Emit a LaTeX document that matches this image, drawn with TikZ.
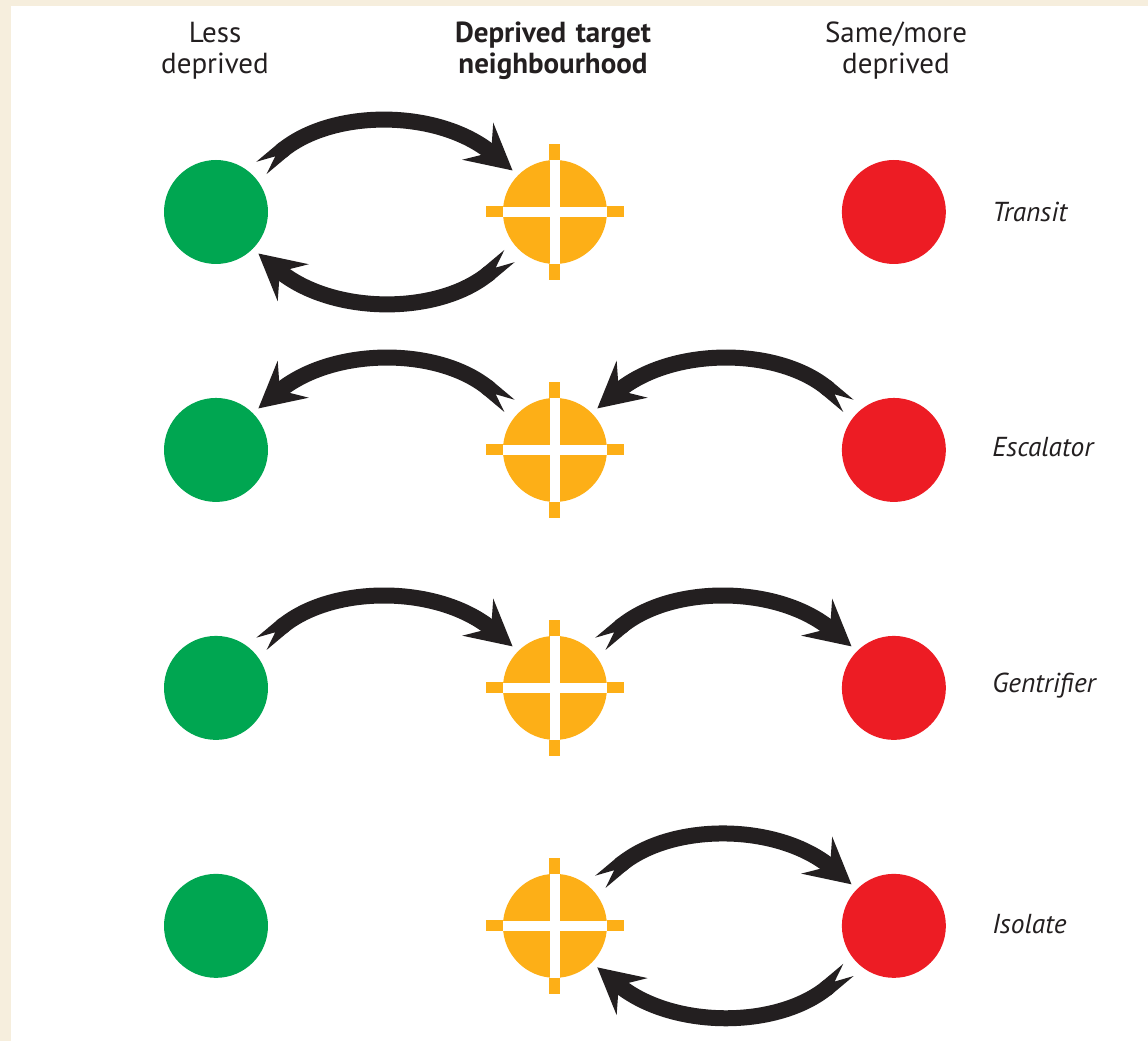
\documentclass[tikz,border=0pt]{standalone}
\usepackage{fontspec}
\setmainfont{PT Sans}
\usetikzlibrary{arrows.meta}
\definecolor{cream}{HTML}{F6EEDD}
\definecolor{lessgreen}{HTML}{00A651}
\definecolor{targorange}{HTML}{FDAF17}
\definecolor{morered}{HTML}{ED1C24}
\definecolor{ink}{HTML}{231F20}
\tikzstyle{less} = [circle, fill=lessgreen, minimum size=2.08cm, inner sep=0pt]
\tikzstyle{targ} = [circle, fill=targorange, minimum size=2.08cm, inner sep=0pt]
\tikzstyle{more} = [circle, fill=morered, minimum size=2.08cm, inner sep=0pt]
\tikzstyle{head} = [text width=5cm, align=center, text=ink,
    font=\fontsize{16.5}{17.6}\selectfont]
\tikzstyle{kind} = [anchor=west, inner sep=0pt, text=ink,
    font=\fontsize{15.6}{17.6}\selectfont\itshape]
\tikzstyle{gap} = [draw=white, line width=0.2cm]
\tikzstyle{stub} = [draw=targorange, line width=0.22cm]
\tikzstyle{line} = [draw=ink, line width=0.32cm,
    arrows={Triangle Cap[reversed, length=0.36cm]-Stealth[length=0.9cm, width=0.95cm, inset=0.34cm]},
    shorten <=0.22cm, shorten >=0.14cm]

\begin{document}
\begin{tikzpicture}[x=0.02cm, y=0.02cm, node distance=6.78cm]
    % Frame
    \fill[cream] (0,0) rectangle (1148,1041);
    \fill[white] (11,0) rectangle (1148,1035);
    \useasboundingbox (0,0) rectangle (1148,1041);
    % Column heads
    \node [head] (hless) at (215,990) {Less\\deprived};
    \node [head, font=\fontsize{16.5}{17.6}\selectfont\bfseries] (htarg) at (553,990) {Deprived target\\neighbourhood};
    \node [head] (hmore) at (896,990) {Same/more\\deprived};
    % Place nodes
    \node [less] (less1) at (216,829) {};
    \node [targ, right of=less1] (targ1) {};
    \node [more, right of=targ1] (more1) {};
    \node [less, below of=less1, node distance=4.76cm] (less2) {};
    \node [targ, right of=less2] (targ2) {};
    \node [more, right of=targ2] (more2) {};
    \node [less, below of=less2, node distance=4.76cm] (less3) {};
    \node [targ, right of=less3] (targ3) {};
    \node [more, right of=targ3] (more3) {};
    \node [less, below of=less3, node distance=4.76cm] (less4) {};
    \node [targ, right of=less4] (targ4) {};
    \node [more, right of=targ4] (more4) {};
    % Cross hairs
    \foreach \t in {targ1,targ2,targ3,targ4} {
        \path [gap] (\t.west) -- (\t.east) (\t.north) -- (\t.south);
        \path [stub] (\t.west) -- ++(-17,0) (\t.east) -- ++(17,0)
            (\t.north) -- ++(0,16) (\t.south) -- ++(0,-16);
    }
    % Row labels
    \node [kind] (kind1) at (992,829) {Transit};
    \node [kind] (kind2) at (992,594) {Escalator};
    \node [kind] (kind3) at (992,355) {Gentrifier};
    \node [kind] (kind4) at (992,117) {Isolate};
    % Draw edges
    \path [line] (less1.45) to[out=40, in=140] (targ1.135);
    \path [line] (targ1.-135) to[out=-140, in=-40] (less1.-45);
    \path [line] (targ2.135) to[out=140, in=40] (less2.45);
    \path [line] (more2.135) to[out=140, in=40] (targ2.45);
    \path [line] (less3.45) to[out=40, in=140] (targ3.135);
    \path [line] (targ3.45) to[out=40, in=140] (more3.135);
    \path [line] (targ4.45) to[out=40, in=140] (more4.135);
    \path [line] (more4.-135) to[out=-140, in=-40] (targ4.-45);
\end{tikzpicture}
\end{document}
